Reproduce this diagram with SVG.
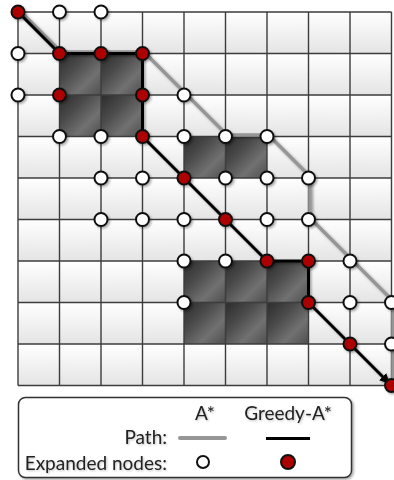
<svg xmlns="http://www.w3.org/2000/svg" width="394" height="480" viewBox="0 0 394 480">
<defs>
  <linearGradient id="cellG" x1="0" y1="0" x2="0" y2="1">
    <stop offset="0" stop-color="#ffffff"/>
    <stop offset="1" stop-color="#e4e4e4"/>
  </linearGradient>
  <pattern id="cells" patternUnits="userSpaceOnUse" x="18" y="12" width="41.5" height="41.5">
    <rect x="0" y="0" width="41.5" height="41.5" fill="url(#cellG)"/>
  </pattern>
  <linearGradient id="obsG" x1="0" y1="0" x2="1" y2="1">
    <stop offset="0" stop-color="#2c2c2c"/>
    <stop offset="0.35" stop-color="#4a4a4a"/>
    <stop offset="0.68" stop-color="#717171"/>
    <stop offset="1" stop-color="#4e4e4e"/>
  </linearGradient>
  <filter id="sh" x="-50%" y="-50%" width="200%" height="200%">
    <feDropShadow dx="1.5" dy="1.5" stdDeviation="1.2" flood-color="#000" flood-opacity="0.35"/>
  </filter>
  <filter id="tsh" x="-10%" y="-30%" width="120%" height="160%">
    <feDropShadow dx="1" dy="1" stdDeviation="0.8" flood-color="#000" flood-opacity="0.25"/>
  </filter>
  <marker id="arrow" markerWidth="10" markerHeight="10" refX="9" refY="5" orient="auto" markerUnits="userSpaceOnUse">
    <path d="M0,0 L10,5 L0,10 Z" fill="#000"/>
  </marker>
  <style>
    .obs { fill: url(#obsG); }
    .grid { stroke: #3c3c3c; stroke-width: 1.4; fill: none; }
    .astar { stroke: #969696; stroke-width: 3.5; fill: none; stroke-linejoin: round; }
    .greedy { stroke: #000; stroke-width: 3; fill: none; stroke-linejoin: round; }
    .w { fill: #ffffff; stroke: #111; stroke-width: 2; }
    .r { fill: #ad0000; stroke: #111; stroke-width: 2; }
    .lbl { font-family: Lato, "Liberation Sans", sans-serif; font-size: 19px; fill: #222; }
  </style>
</defs>

<g id="grid-background">
  <rect x="18" y="12" width="373.5" height="373.5" fill="url(#cells)"/>
</g>

<g id="obstacles">
  <rect class="obs" x="59.5" y="53.5" width="41.5" height="41.5"/>
  <rect class="obs" x="101" y="53.5" width="41.5" height="41.5"/>
  <rect class="obs" x="59.5" y="95" width="41.5" height="41.5"/>
  <rect class="obs" x="101" y="95" width="41.5" height="41.5"/>
  <rect class="obs" x="184" y="136.5" width="41.5" height="41.5"/>
  <rect class="obs" x="225.5" y="136.5" width="41.5" height="41.5"/>
  <rect class="obs" x="184" y="261" width="41.5" height="41.5"/>
  <rect class="obs" x="225.5" y="261" width="41.5" height="41.5"/>
  <rect class="obs" x="267" y="261" width="41.5" height="41.5"/>
  <rect class="obs" x="184" y="302.5" width="41.5" height="41.5"/>
  <rect class="obs" x="225.5" y="302.5" width="41.5" height="41.5"/>
  <rect class="obs" x="267" y="302.5" width="41.5" height="41.5"/>
</g>

<g id="grid-lines">
  <path class="grid" d="M18,12V385.5 M59.5,12V385.5 M101,12V385.5 M142.5,12V385.5 M184,12V385.5 M225.5,12V385.5 M267,12V385.5 M308.5,12V385.5 M350,12V385.5 M391.5,12V385.5 M18,12H391.5 M18,53.5H391.5 M18,95H391.5 M18,136.5H391.5 M18,178H391.5 M18,219.5H391.5 M18,261H391.5 M18,302.5H391.5 M18,344H391.5 M18,385.5H391.5"/>
</g>

<g id="connectors">
  <polyline id="path-astar" class="astar" filter="url(#sh)" transform="translate(1.5,-1.5)" points="18,12 59.5,53.5 142.5,53.5 225.5,136.5 267,136.5 308.5,178 308.5,219.5 391.5,302.5 391.5,385.5"/>
  <polyline id="path-greedy" class="greedy" filter="url(#sh)" marker-end="url(#arrow)" points="18,12 59.5,53.5 142.5,53.5 142.5,136.5 267,261 308.5,261 308.5,302.5 389,383"/>
</g>

<g id="nodes" filter="url(#sh)">
  <g id="n-1-0"><circle class="w" cx="59.5" cy="12" r="6.5"/></g>
  <g id="n-2-0"><circle class="w" cx="101" cy="12" r="6.5"/></g>
  <g id="n-0-1"><circle class="w" cx="18" cy="53.5" r="6.5"/></g>
  <g id="n-0-2"><circle class="w" cx="18" cy="95" r="6.5"/></g>
  <g id="n-4-2"><circle class="w" cx="184" cy="95" r="6.5"/></g>
  <g id="n-1-3"><circle class="w" cx="59.5" cy="136.5" r="6.5"/></g>
  <g id="n-2-3"><circle class="w" cx="101" cy="136.5" r="6.5"/></g>
  <g id="n-4-3"><circle class="w" cx="184" cy="136.5" r="6.5"/></g>
  <g id="n-5-3"><circle class="w" cx="225.5" cy="136.5" r="6.5"/></g>
  <g id="n-6-3"><circle class="w" cx="267" cy="136.5" r="6.5"/></g>
  <g id="n-2-4"><circle class="w" cx="101" cy="178" r="6.5"/></g>
  <g id="n-3-4"><circle class="w" cx="142.5" cy="178" r="6.5"/></g>
  <g id="n-5-4"><circle class="w" cx="225.5" cy="178" r="6.5"/></g>
  <g id="n-6-4"><circle class="w" cx="267" cy="178" r="6.5"/></g>
  <g id="n-7-4"><circle class="w" cx="308.5" cy="178" r="6.5"/></g>
  <g id="n-2-5"><circle class="w" cx="101" cy="219.5" r="6.5"/></g>
  <g id="n-3-5"><circle class="w" cx="142.5" cy="219.5" r="6.5"/></g>
  <g id="n-4-5"><circle class="w" cx="184" cy="219.5" r="6.5"/></g>
  <g id="n-6-5"><circle class="w" cx="267" cy="219.5" r="6.5"/></g>
  <g id="n-7-5"><circle class="w" cx="308.5" cy="219.5" r="6.5"/></g>
  <g id="n-4-6"><circle class="w" cx="184" cy="261" r="6.5"/></g>
  <g id="n-5-6"><circle class="w" cx="225.5" cy="261" r="6.5"/></g>
  <g id="n-8-6"><circle class="w" cx="350" cy="261" r="6.5"/></g>
  <g id="n-4-7"><circle class="w" cx="184" cy="302.5" r="6.5"/></g>
  <g id="n-8-7"><circle class="w" cx="350" cy="302.5" r="6.5"/></g>
  <g id="n-9-7"><circle class="w" cx="391.5" cy="302.5" r="6.5"/></g>
  <g id="n-9-8"><circle class="w" cx="391.5" cy="344" r="6.5"/></g>

  <g id="n-0-0"><circle class="r" cx="18" cy="12" r="6.5"/></g>
  <g id="n-1-1"><circle class="r" cx="59.5" cy="53.5" r="6.5"/></g>
  <g id="n-2-1"><circle class="r" cx="101" cy="53.5" r="6.5"/></g>
  <g id="n-3-1"><circle class="r" cx="142.5" cy="53.5" r="6.5"/></g>
  <g id="n-1-2"><circle class="r" cx="59.5" cy="95" r="6.5"/></g>
  <g id="n-3-2"><circle class="r" cx="142.5" cy="95" r="6.5"/></g>
  <g id="n-3-3"><circle class="r" cx="142.5" cy="136.5" r="6.5"/></g>
  <g id="n-4-4"><circle class="r" cx="184" cy="178" r="6.5"/></g>
  <g id="n-5-5"><circle class="r" cx="225.5" cy="219.5" r="6.5"/></g>
  <g id="n-6-6"><circle class="r" cx="267" cy="261" r="6.5"/></g>
  <g id="n-7-6"><circle class="r" cx="308.5" cy="261" r="6.5"/></g>
  <g id="n-7-7"><circle class="r" cx="308.5" cy="302.5" r="6.5"/></g>
  <g id="n-8-8"><circle class="r" cx="350" cy="344" r="6.5"/></g>
  <g id="n-9-9"><circle class="r" cx="391.5" cy="385.5" r="6.5"/></g>
</g>

<g id="legend">
  <rect x="18.5" y="397.5" width="333" height="80" rx="7" ry="7" fill="#fff" stroke="#333" stroke-width="1.5" filter="url(#sh)"/>
  <g filter="url(#tsh)">
    <text class="lbl" x="205" y="420" text-anchor="middle">A*</text>
    <text class="lbl" x="288" y="420" text-anchor="middle">Greedy-A*</text>
    <text class="lbl" x="167" y="444" text-anchor="end">Path:</text>
    <text class="lbl" x="167" y="470" text-anchor="end">Expanded nodes:</text>
  </g>
  <line x1="180" y1="438" x2="225" y2="438" stroke="#969696" stroke-width="4" stroke-linecap="round"/>
  <line x1="266" y1="438.5" x2="310" y2="438.5" stroke="#000" stroke-width="3"/>
  <circle class="w" cx="203" cy="462" r="6"/>
  <circle class="r" cx="288" cy="462" r="7"/>
</g>
</svg>
